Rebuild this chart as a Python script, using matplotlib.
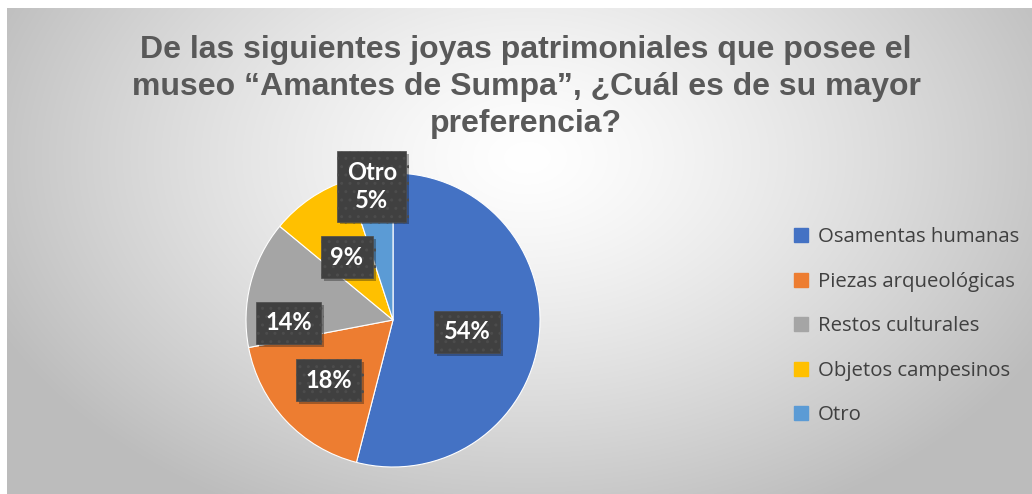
import numpy as np
import matplotlib
matplotlib.use("Agg")
import matplotlib.pyplot as plt
from matplotlib.lines import Line2D
import matplotlib.patheffects as pe

# data
categories = ["Osamentas humanas", "Piezas arqueológicas", "Restos culturales",
              "Objetos campesinos", "Otro"]
values = [54, 18, 14, 9, 5]
colors = ["#4472C4", "#ED7D31", "#A5A5A5", "#FFC000", "#5B9BD5"]
title = ("De las siguientes joyas patrimoniales que posee el\n"
         "museo “Amantes de Sumpa”, ¿Cuál es de su mayor\n"
         "preferencia?")

# label placement (fraction of radius, angle nudge in degrees)
label_r = [0.51, 0.60, 0.71, 0.53, 0.92]
label_nudge = [-2, 0, 16, 2, 0]

W, H = 1032, 494
fig = plt.figure(figsize=(W / 100, H / 100), dpi=100)
fig.patch.set_facecolor("white")

# radial gradient background
bg = fig.add_axes([7 / W, 0, 1 - 7 / W, 1 - 8 / H])
bg.set_axis_off()
yy, xx = np.mgrid[0:486, 0:1025]
cx, cy = 520, 150
d = np.sqrt(((xx - cx) / 620.0) ** 2 + ((yy - cy) / 420.0) ** 2)
g = np.clip(1.0 - 0.28 * d ** 1.3, 0.74, 1.0)
bg.imshow(np.dstack([g, g, g]), aspect="auto", extent=[0, 1, 0, 1], origin="upper")
bg.set_xlim(0, 1)
bg.set_ylim(0, 1)

# pie axes: centre (393, 320) px, radius 147 px
pcx, pcy, r = 393, 320, 147
ax = fig.add_axes([(pcx - r) / W, (H - pcy - r) / H, 2 * r / W, 2 * r / H])
ax.set_axis_off()
wedges, _ = ax.pie(values, colors=colors, startangle=90, counterclock=False,
                   radius=1, wedgeprops=dict(edgecolor="white", linewidth=0.8))
ax.set_xlim(-1, 1)
ax.set_ylim(-1, 1)

total = float(sum(values))
cum = 0.0
for i, v in enumerate(values):
    mid = 90 - 360 * (cum + v / 2) / total + label_nudge[i]
    cum += v
    a = np.deg2rad(mid)
    x, y = label_r[i] * np.cos(a), label_r[i] * np.sin(a)
    txt = f"{v}%" if categories[i] != "Otro" else f"Otro\n{v}%"
    t = ax.text(x, y, txt, ha="center", va="center", color="white",
                fontsize=17, fontweight="bold", family="Lato",
                linespacing=1.3, clip_on=False, zorder=5,
                bbox=dict(boxstyle="square,pad=0.4", facecolor="#404040",
                          edgecolor="#4c4c4c", hatch="..", linewidth=0.5))
    t.get_bbox_patch().set_path_effects([
        pe.SimplePatchShadow(offset=(2, -2), alpha=0.35), pe.Normal()])

# one text per title line so the 37 px line pitch is exact
for k, line in enumerate(title.split("\n")):
    fig.text(526 / W, 1 - (50 + 37 * k) / H, line, ha="center", va="center",
             fontsize=23, fontweight="bold", color="#595959",
             family="Liberation Sans")

handles = [Line2D([], [], marker="s", linestyle="", color=c, markersize=10)
           for c in colors]
fig.legend(handles, categories, loc="upper left",
           bbox_to_anchor=(782 / W, 1 - 217 / H), frameon=False,
           labelcolor="#404040", labelspacing=1.2,
           handlelength=0.9, handletextpad=0.35, borderpad=0,
           prop=dict(family="Open Sans", size=14.7))

fig.savefig("out.png", dpi=100)
